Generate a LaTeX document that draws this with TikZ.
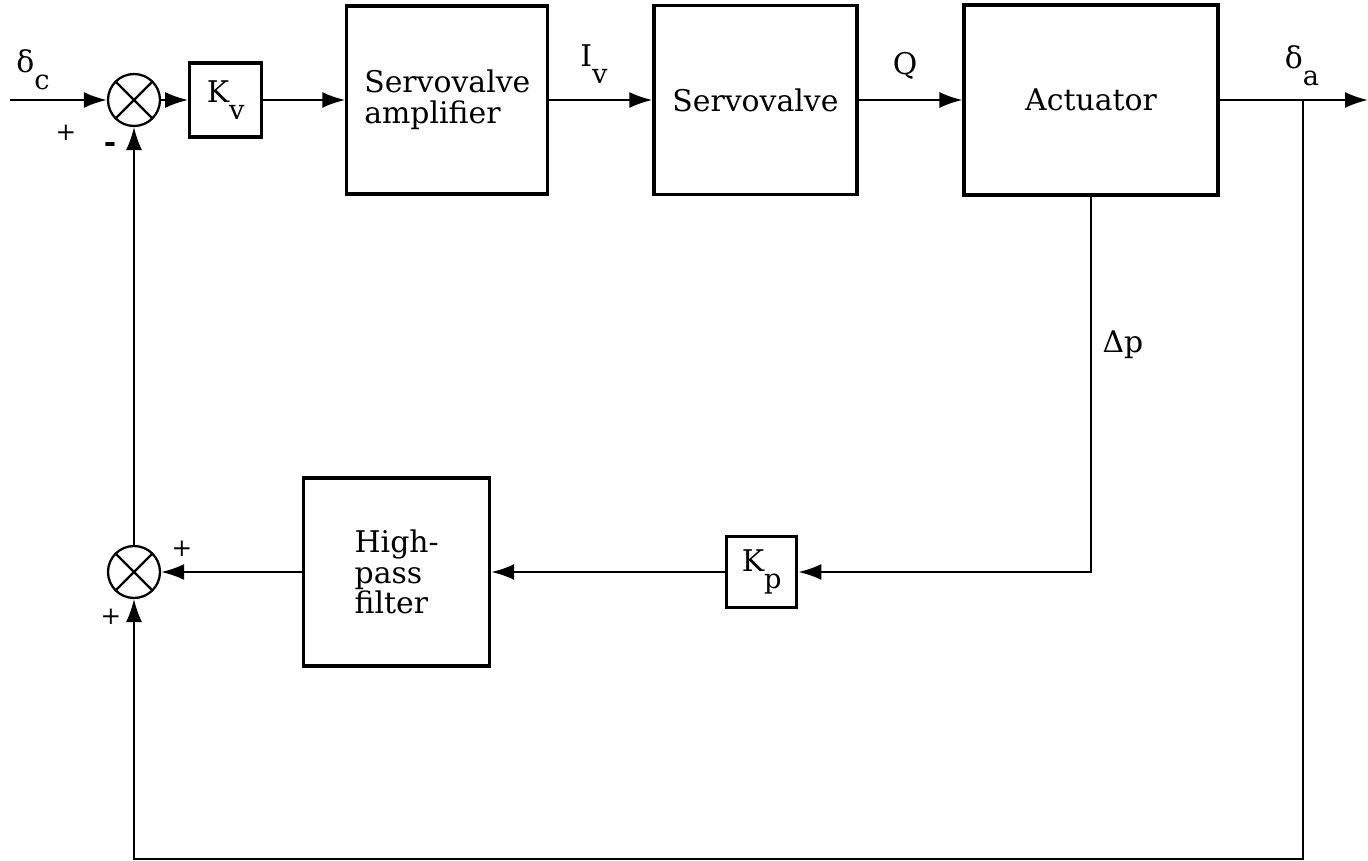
\documentclass[tikz,border=0pt]{standalone}
\usepackage{fontspec}
\setmainfont{DejaVu Serif}
\usetikzlibrary{arrows.meta, positioning, calc}
\newcommand{\lowsub}[1]{\raisebox{-1.1ex}{\fontsize{15.5}{15.5}\selectfont #1}}

\begin{document}
\begin{tikzpicture}[x=0.02cm, y=-0.02cm,
  box/.style={draw, line width=1.8pt, fill=white, align=left,
    font=\fontsize{17}{17.5}\selectfont, inner sep=0pt},
  sumnode/.style={draw, circle, line width=1.3pt, minimum size=1.04cm, inner sep=0pt,
    path picture={\draw[line width=1.3pt]
      (path picture bounding box.north west) -- (path picture bounding box.south east)
      (path picture bounding box.north east) -- (path picture bounding box.south west);}},
  arrow/.style={-{Latex[length=4.6mm, width=3.2mm]}, line width=1.3pt},
  thinarrow/.style={-{Latex[length=4.6mm, width=3.2mm]}, line width=0.9pt},
  lbl/.style={font=\fontsize{17}{17.5}\selectfont, inner sep=0pt},
  sign/.style={font=\fontsize{14}{14}\selectfont, inner sep=0pt}]
  \useasboundingbox (0,0) rectangle (1368,861);

  % forward path
  \node[sumnode] (sum1) at (134,100) {};
  \node[box, minimum width=1.44cm, minimum height=1.48cm, right=0.54cm of sum1] (kv) {K\lowsub{v}};
  \node[box, minimum width=4.02cm, minimum height=3.76cm, right=1.64cm of kv] (amp) {Servovalve\\amplifier};
  \node[box, minimum width=4.06cm, minimum height=3.78cm, right=2.06cm of amp] (valve) {Servovalve};
  \node[box, minimum width=5.08cm, minimum height=3.8cm, right=2.08cm of valve] (act) {Actuator};

  % pressure feedback path
  \node[sumnode] (sum2) at (134,572) {};
  \node[box, minimum width=3.72cm, minimum height=3.76cm, right=2.82cm of sum2] (hpf) {High-\\pass\\filter};
  \node[box, minimum width=1.4cm, minimum height=1.42cm, right=4.68cm of hpf] (kp) {K\lowsub{p}};

  \coordinate (in) at (10,100);
  \coordinate (out) at (1368,100);
  \coordinate (tap) at (1303,100);
  \coordinate (floor) at (0,859);

  \draw[arrow] (in) -- (sum1.west);
  \draw[arrow] (sum1.east) -- (kv.west);
  \draw[arrow] (kv.east) -- (amp.west);
  \draw[arrow] (amp.east) -- (valve.west);
  \draw[arrow] (valve.east) -- (act.west);
  \draw[arrow] (act.east) -- (out);
  \draw[arrow] (act.south) |- (kp.east);
  \draw[arrow] (kp.west) -- (hpf.east);
  \draw[arrow] (hpf.west) -- (sum2.east);
  \draw[thinarrow] (sum2.north) -- (sum1.south);
  \draw[thinarrow] (tap) -- (tap |- floor) -| (sum2.south);

  % signal names
  \node[lbl] (dc) at (33,70) {δ\lowsub{c}};
  \node[lbl] (iv) at (594,64) {I\lowsub{v}};
  \node[lbl] (q) at (905,66) {Q};
  \node[lbl] (da) at (1302,66) {δ\lowsub{a}};
  \node[lbl] (dp) at (1123,345) {Δp};

  % summing signs
  \node[sign] (s1a) at (66,133) {+};
  \node[sign, font=\fontsize{17}{17}\selectfont\bfseries] (s1b) at (110,148) {-};
  \node[sign] (s2a) at (182,549) {+};
  \node[sign] (s2b) at (111,617) {+};
\end{tikzpicture}
\end{document}
